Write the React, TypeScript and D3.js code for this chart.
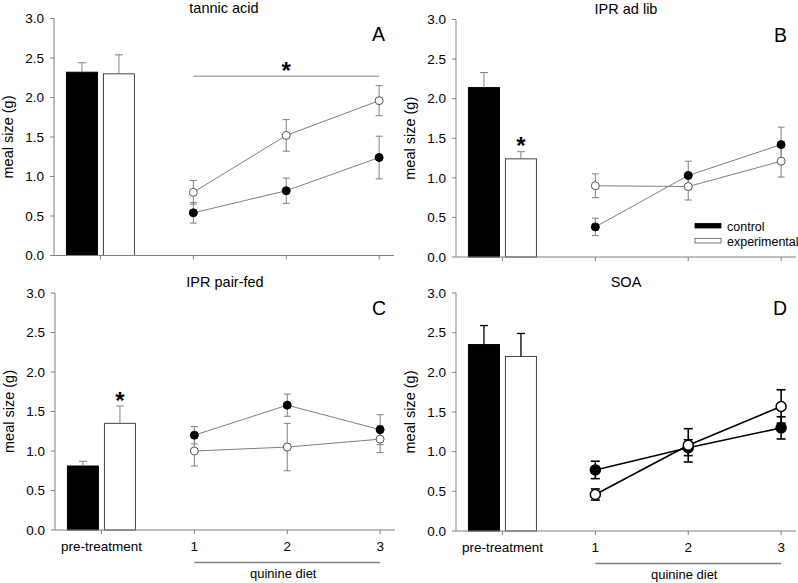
import React from 'react';
import * as d3 from 'd3';

// ---------- data ----------
const xCategories = ['pre-treatment', '1', '2', '3'];
const xValues = [0, 1, 2, 3];
const yTicks = [0, 0.5, 1.0, 1.5, 2.0, 2.5, 3.0];
const panelTitles = ['tannic acid', 'IPR ad lib', 'IPR pair-fed', 'SOA'];
const panelLetters = ['A', 'B', 'C', 'D'];
const seriesNames = ['control', 'experimental'];
const xAxisTitle = 'quinine diet';
const yAxisTitle = 'meal size (g)';

// pre-treatment bars (A, B, C, D)
const preControl = [2.32, 2.14, 0.81, 2.35];
const preControlErr = [0.12, 0.19, 0.06, 0.24];
const preExperimental = [2.30, 1.24, 1.35, 2.20];
const preExperimentalErr = [0.24, 0.09, 0.22, 0.29];

// quinine diet days 1..3
const controlA = [0.54, 0.82, 1.24];
const controlAErr = [0.13, 0.16, 0.27];
const experimentalA = [0.80, 1.52, 1.96];
const experimentalAErr = [0.15, 0.20, 0.19];

const controlB = [0.38, 1.03, 1.42];
const controlBErr = [0.11, 0.18, 0.22];
const experimentalB = [0.90, 0.89, 1.21];
const experimentalBErr = [0.15, 0.17, 0.20];

const controlC = [1.20, 1.58, 1.27];
const controlCErr = [0.11, 0.14, 0.19];
const experimentalC = [1.00, 1.05, 1.15];
const experimentalCErr = [0.19, 0.30, 0.17];

const controlD = [0.77, 1.05, 1.30];
const controlDErr = [0.11, 0.10, 0.14];
const experimentalD = [0.46, 1.08, 1.57];
const experimentalDErr = [0.07, 0.21, 0.21];

// significance markers
const sigLineA = { from: 1, to: 3, value: 2.27, starValue: 2.41 };
const barStarValue = [null, 1.48, 1.71, null];

const quinineControl = [controlA, controlB, controlC, controlD];
const quinineControlErr = [controlAErr, controlBErr, controlCErr, controlDErr];
const quinineExperimental = [experimentalA, experimentalB, experimentalC, experimentalD];
const quinineExperimentalErr = [experimentalAErr, experimentalBErr, experimentalCErr, experimentalDErr];

// ---------- layout ----------
const W = 798;
const H = 583;
const FONT = '"Liberation Sans", Arial, sans-serif';
const GRAY = '#808080';
const STAR = 24;

const layouts = [
  { axisX: 54, yTop: 18.5, yBottom: 255.5, xLabels: false },
  { axisX: 456, yTop: 19.5, yBottom: 257, xLabels: false },
  { axisX: 55, yTop: 293, yBottom: 530, xLabels: true },
  { axisX: 456, yTop: 293, yBottom: 531, xLabels: true },
];

function Panel({ i }: { i: number }) {
  const L = layouts[i];
  const bold = i === 3;
  const lineColor = bold ? '#000' : GRAY;
  const lineW = bold ? 1.6 : 1;
  const r = bold ? 5 : 4;
  const cap = bold ? 4.5 : 3.5;

  const x = d3.scaleLinear().domain([-0.5, 3.16]).range([L.axisX, L.axisX + 340]);
  const y = d3.scaleLinear().domain([0, 3]).range([L.yBottom, L.yTop]);
  const band = d3
    .scaleBand<string>()
    .domain(seriesNames)
    .range([x(0) - 34, x(0) + 34])
    .paddingInner(6 / 37);

  const preVals = [preControl[i], preExperimental[i]];
  const preErrs = [preControlErr[i], preExperimentalErr[i]];

  const days = [1, 2, 3];
  const seriesVals = [quinineControl[i], quinineExperimental[i]];
  const seriesErrs = [quinineControlErr[i], quinineExperimentalErr[i]];
  const line = d3
    .line<number>()
    .x((_, k) => x(days[k]))
    .y((v) => y(v));

  const xEnd = x(3.16);
  const plotCenter = (L.axisX + xEnd) / 2;

  return (
    <g>
      {/* title */}
      <text x={plotCenter} y={L.yTop - 6} textAnchor="middle" fontSize={14.5} fontFamily={FONT} fill="#000">
        {panelTitles[i]}
      </text>
      {/* panel letter */}
      <text x={L.axisX + 331} y={L.yTop + 22} textAnchor="end" fontSize={19.5} fontFamily={FONT} fill="#000">
        {panelLetters[i]}
      </text>
      {/* y label */}
      <text
        transform={`translate(${L.axisX - 41},${(L.yTop + L.yBottom) / 2}) rotate(-90)`}
        textAnchor="middle"
        fontSize={14.5}
        fontFamily={FONT}
        fill="#000"
      >
        {yAxisTitle}
      </text>

      {/* bars */}
      {seriesNames.map((s, k) => (
        <rect
          key={s}
          x={band(s)}
          y={y(preVals[k])}
          width={band.bandwidth()}
          height={y(0) - y(preVals[k])}
          fill={k === 0 ? '#000' : '#fff'}
          stroke={k === 0 ? '#000' : '#444'}
          strokeWidth={1}
        />
      ))}
      {seriesNames.map((s, k) => {
        const cx = (band(s) as number) + band.bandwidth() / 2;
        const top = y(preVals[k] + preErrs[k]);
        return (
          <g key={'be' + s} stroke={lineColor} strokeWidth={bold ? 1.3 : 1}>
            <line x1={cx} x2={cx} y1={y(preVals[k])} y2={top} />
            <line x1={cx - 4} x2={cx + 4} y1={top} y2={top} />
          </g>
        );
      })}

      {/* axes */}
      <g stroke={GRAY} strokeWidth={1} fill="none">
        <line x1={L.axisX} x2={L.axisX} y1={L.yTop} y2={L.yBottom} />
        <line x1={L.axisX} x2={xEnd} y1={L.yBottom} y2={L.yBottom} />
        {yTicks.map((t) => (
          <line key={'yt' + t} x1={L.axisX - 4} x2={L.axisX} y1={y(t)} y2={y(t)} />
        ))}
        {xValues.map((t) => (
          <line key={'xt' + t} x1={x(t)} x2={x(t)} y1={L.yBottom} y2={L.yBottom + 4} />
        ))}
      </g>
      {yTicks.map((t) => (
        <text
          key={'yl' + t}
          x={L.axisX - 10}
          y={y(t)}
          dy="0.35em"
          textAnchor="end"
          fontSize={13.5}
          fontFamily={FONT}
          fill="#000"
        >
          {d3.format('.1f')(t)}
        </text>
      ))}
      {L.xLabels &&
        xValues.map((t, k) => (
          <text key={'xl' + t} x={x(t)} y={L.yBottom + 21} textAnchor="middle" fontSize={13.5} fontFamily={FONT} fill="#000">
            {xCategories[k]}
          </text>
        ))}
      {L.xLabels && (
        <g>
          <line x1={x(1)} x2={x(3)} y1={L.yBottom + 32.5} y2={L.yBottom + 32.5} stroke={GRAY} strokeWidth={1.5} />
          <text x={x(2) - 4} y={L.yBottom + 48} textAnchor="middle" fontSize={13} fontFamily={FONT} fill="#000">
            {xAxisTitle}
          </text>
        </g>
      )}

      {/* lines */}
      {seriesVals.map((vals, k) => (
        <path key={'ln' + k} d={line(vals) || ''} fill="none" stroke={lineColor} strokeWidth={lineW} />
      ))}
      {/* point error bars */}
      {seriesVals.map((vals, k) =>
        vals.map((v, j) => {
          const e = seriesErrs[k][j];
          const cx = x(days[j]);
          return (
            <g key={'pe' + k + j} stroke={lineColor} strokeWidth={bold ? 1.6 : 1}>
              <line x1={cx} x2={cx} y1={y(v - e)} y2={y(v + e)} />
              <line x1={cx - cap} x2={cx + cap} y1={y(v + e)} y2={y(v + e)} />
              <line x1={cx - cap} x2={cx + cap} y1={y(v - e)} y2={y(v - e)} />
            </g>
          );
        })
      )}
      {/* markers */}
      {seriesVals.map((vals, k) =>
        vals.map((v, j) => (
          <circle
            key={'pt' + k + j}
            cx={x(days[j])}
            cy={y(v)}
            r={r}
            fill={k === 0 ? '#000' : '#fff'}
            stroke={k === 0 ? '#000' : bold ? '#000' : '#555'}
            strokeWidth={bold ? 1.5 : 1}
          />
        ))
      )}

      {/* significance */}
      {i === 0 && (
        <g>
          <line x1={x(sigLineA.from)} x2={x(sigLineA.to)} y1={y(sigLineA.value)} y2={y(sigLineA.value)} stroke={GRAY} strokeWidth={1} />
          <text x={x(2)} y={y(sigLineA.starValue) + STAR * 0.57} textAnchor="middle" fontSize={STAR} fontWeight="bold" fontFamily={FONT} fill="#000">
            *
          </text>
        </g>
      )}
      {barStarValue[i] !== null && (
        <text
          x={(band(seriesNames[1]) as number) + band.bandwidth() / 2}
          y={y(barStarValue[i] as number) + STAR * 0.57}
          textAnchor="middle"
          fontSize={STAR}
          fontWeight="bold"
          fontFamily={FONT}
          fill="#000"
        >
          *
        </text>
      )}

      {/* legend */}
      {i === 1 && (
        <g>
          {seriesNames.map((s, k) => (
            <g key={'lg' + s}>
              <rect
                x={695}
                y={223.5 + k * 15}
                width={26}
                height={4.5}
                fill={k === 0 ? '#000' : '#fff'}
                stroke={k === 0 ? '#000' : '#555'}
                strokeWidth={0.8}
              />
              <text x={727} y={230.5 + k * 15} fontSize={12.5} fontFamily={FONT} fill="#000">
                {s}
              </text>
            </g>
          ))}
        </g>
      )}
    </g>
  );
}

export default function App() {
  return (
    <svg
      width={W}
      height={H}
      viewBox={`0 0 ${W} ${H}`}
      style={{ position: 'absolute', left: 0, top: 0, background: '#fff' }}
    >
      <rect width={W} height={H} fill="#fff" />
      {[0, 1, 2, 3].map((i) => (
        <Panel key={i} i={i} />
      ))}
    </svg>
  );
}
